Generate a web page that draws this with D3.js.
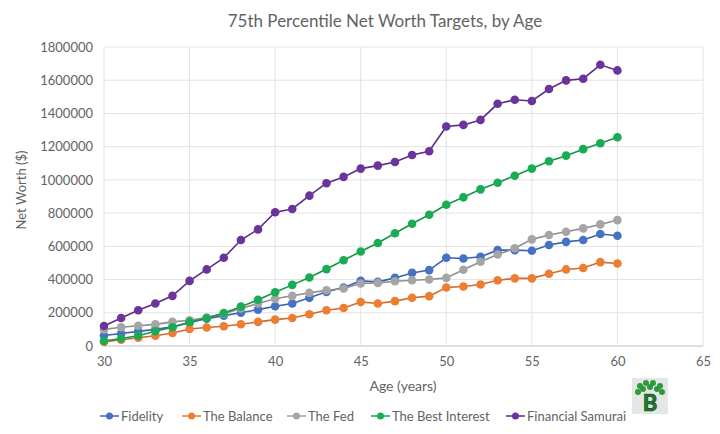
<!DOCTYPE html>
<html>
<head>
<meta charset="utf-8">
<script src="https://cdn.jsdelivr.net/npm/d3@7"></script>
<style>
  body { margin: 0; background: #fff; }
  svg { display: block; font-family: Lato, "Open Sans", sans-serif; }
</style>
</head>
<body>
<svg id="chart" width="720" height="434"></svg>
<script>
// chart data
const ages = d3.range(30, 61);
const seriesNames = ['Fidelity', 'The Balance', 'The Fed', 'The Best Interest', 'Financial Samurai'];
const fidelity = [63000, 75000, 88000, 100000, 115000, 140000, 165000, 183000, 200000, 219000, 239000,
  256000, 290000, 326000, 352000, 392000, 386000, 410000, 440000, 457000, 531000,
  527000, 537000, 577000, 577000, 573000, 608000, 627000, 638000, 674000, 664000];
const theBalance = [25000, 38000, 50000, 62000, 78000, 102000, 111000, 119000, 131000, 145000, 159000,
  169000, 191000, 215000, 229000, 265000, 256000, 270000, 290000, 300000, 352000,
  358000, 370000, 396000, 407000, 407000, 435000, 461000, 470000, 505000, 497000];
const theFed = [100000, 113000, 122000, 130000, 145000, 155000, 171000, 195000, 226000, 256000, 284000,
  302000, 320000, 336000, 346000, 376000, 380000, 390000, 396000, 400000, 410000,
  459000, 507000, 551000, 588000, 642000, 668000, 688000, 708000, 732000, 758000];
const bestInterest = [30000, 45000, 62000, 89000, 113000, 145000, 167000, 199000, 237000, 278000, 324000,
  368000, 412000, 463000, 516000, 569000, 620000, 679000, 736000, 790000, 850000,
  895000, 943000, 983000, 1025000, 1068000, 1112000, 1146000, 1185000, 1221000, 1257000];
const finSamurai = [120000, 169000, 215000, 256000, 302000, 392000, 461000, 531000, 638000, 702000, 805000,
  825000, 905000, 980000, 1018000, 1068000, 1086000, 1108000, 1150000, 1172000, 1321000,
  1331000, 1361000, 1458000, 1482000, 1475000, 1547000, 1599000, 1609000, 1693000, 1659000];
const seriesValues = [fidelity, theBalance, theFed, bestInterest, finSamurai];
const colors = ['#4472c4', '#ed7d31', '#a5a5a5', '#1aab55', '#6a349a'];
const yTicks = d3.range(0, 1800001, 200000);
const xTicks = d3.range(30, 66, 5);

const svg = d3.select('#chart');
const textColor = '#636363';
const plot = { left: 104, right: 703, top: 47, bottom: 346 };

const x = d3.scaleLinear().domain([30, 65]).range([plot.left, plot.right]);
const y = d3.scaleLinear().domain([0, 1800000]).range([plot.bottom, plot.top]);

// title
svg.append('text')
  .attr('x', 385).attr('y', 27)
  .attr('text-anchor', 'middle')
  .style('font-size', '17px')
  .style('fill', textColor)
  .text('75th Percentile Net Worth Targets, by Age');

// gridlines
svg.append('g')
  .selectAll('line.h')
  .data(yTicks)
  .join('line')
  .attr('x1', plot.left).attr('x2', plot.right)
  .attr('y1', (d) => y(d)).attr('y2', (d) => y(d))
  .style('stroke', (d) => (d === 0 ? '#bfbfbf' : '#e3e3e3'))
  .style('stroke-width', 1);
svg.append('g')
  .selectAll('line.v')
  .data(xTicks)
  .join('line')
  .attr('x1', (d) => x(d)).attr('x2', (d) => x(d))
  .attr('y1', plot.top).attr('y2', plot.bottom)
  .style('stroke', '#e3e3e3')
  .style('stroke-width', 1);

// axes (labels only, Excel style)
const yAxis = svg.append('g')
  .attr('transform', `translate(${plot.left - 8},0)`)
  .call(d3.axisLeft(y).tickValues(yTicks).tickSize(0).tickFormat(d3.format('d')));
const xAxis = svg.append('g')
  .attr('transform', `translate(0,${plot.bottom + 8})`)
  .call(d3.axisBottom(x).tickValues(xTicks).tickSize(0));
[yAxis, xAxis].forEach((ax) => {
  ax.select('.domain').remove();
  ax.selectAll('text')
    .style('font-family', 'Lato, sans-serif')
    .style('font-size', '13px')
    .style('fill', textColor);
});

// axis titles
svg.append('text')
  .attr('transform', 'translate(26,190) rotate(-90)')
  .attr('text-anchor', 'middle')
  .style('font-size', '13px')
  .style('fill', textColor)
  .text('Net Worth ($)');
svg.append('text')
  .attr('x', 403).attr('y', 391)
  .attr('text-anchor', 'middle')
  .style('font-size', '14px')
  .style('fill', textColor)
  .text('Age (years)');

// series lines and markers
const line = d3.line().x((d) => x(d[0])).y((d) => y(d[1]));
seriesValues.forEach((vals, i) => {
  const pts = ages.map((a, j) => [a, vals[j]]);
  const g = svg.append('g');
  g.append('path')
    .datum(pts)
    .attr('d', line)
    .style('fill', 'none')
    .style('stroke', d3.color(colors[i]).darker(0.4))
    .style('stroke-width', 1.6);
  g.selectAll('circle')
    .data(pts)
    .join('circle')
    .attr('cx', (d) => x(d[0]))
    .attr('cy', (d) => y(d[1]))
    .attr('r', 4.3)
    .style('fill', colors[i]);
});

// legend
const legendX = [100, 182, 287, 371, 506];
const legendY = 416;
const legend = svg.append('g')
  .selectAll('g')
  .data(seriesNames)
  .join('g')
  .attr('transform', (d, i) => `translate(${legendX[i]},${legendY})`);
legend.append('line')
  .attr('x1', 0).attr('x2', 19)
  .attr('y1', 0).attr('y2', 0)
  .style('stroke', (d, i) => colors[i])
  .style('stroke-width', 1.6);
legend.append('circle')
  .attr('cx', 9.5).attr('cy', 0).attr('r', 3.5)
  .style('fill', (d, i) => colors[i]);
legend.append('text')
  .attr('x', 21).attr('y', 4.5)
  .style('font-size', '13px')
  .style('fill', textColor)
  .text((d) => d);

// small logo in the corner
const logo = svg.append('g').attr('transform', 'translate(632,378)');
logo.append('rect')
  .attr('width', 36).attr('height', 36)
  .style('fill', '#e4e8e4');
const leaves = [[8, 8], [14, 5], [21, 5], [28, 8], [6, 14], [30, 14], [11, 11], [25, 11], [18, 9]];
logo.selectAll('circle')
  .data(leaves)
  .join('circle')
  .attr('cx', (d) => d[0]).attr('cy', (d) => d[1])
  .attr('r', 3)
  .style('fill', '#2e9a3c');
logo.append('text')
  .attr('x', 18).attr('y', 33)
  .attr('text-anchor', 'middle')
  .style('font-size', '22px')
  .style('font-weight', 900)
  .style('fill', '#1f7a2c')
  .style('stroke', '#0d4d18')
  .style('stroke-width', 0.6)
  .text('B');
</script>
</body>
</html>
